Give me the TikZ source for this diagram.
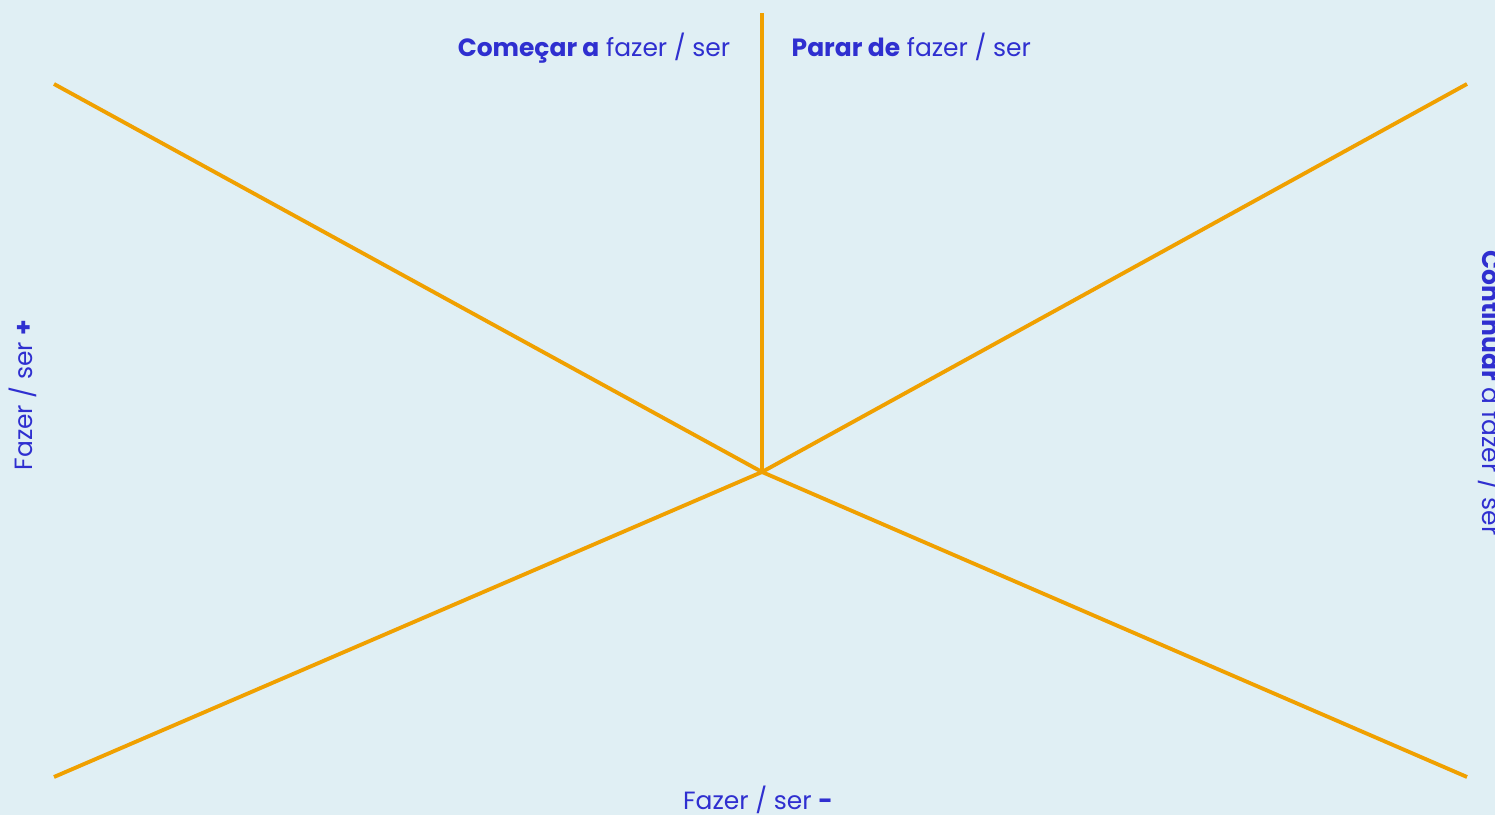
\documentclass[tikz,border=0pt]{standalone}
\usepackage{fontspec}
\setmainfont{Poppins}
\definecolor{bgblue}{HTML}{E0EFF4}
\definecolor{axisorange}{HTML}{F0A000}
\definecolor{labelblue}{HTML}{2F2FD0}
\tikzset{
  axis/.style={draw=axisorange, line width=1.1pt},
  lab/.style={text=labelblue, font=\fontsize{7.1}{8}\selectfont, inner sep=0pt}
}
\begin{document}
\begin{tikzpicture}
  \fill[bgblue] (0,0) rectangle (14.95,8.15);
  \useasboundingbox (0,0) rectangle (14.95,8.15);
  \begin{scope}
  \clip (0,0) rectangle (14.95,8.15);
  \coordinate (mid) at (7.62,3.43);
  \coordinate (top) at (7.62,8.02);
  \coordinate (ul) at (0.54,7.31);
  \coordinate (ur) at (14.67,7.31);
  \coordinate (ll) at (0.54,0.38);
  \coordinate (lr) at (14.67,0.38);
  \draw[axis] (ul) -- (mid) -- (lr);
  \draw[axis] (ll) -- (mid) -- (ur);
  \draw[axis] (mid) -- (top);
  \node[lab, anchor=base east] (start) at (7.31,7.58) {\textbf{Começar a} fazer / ser};
  \node[lab, anchor=base west] (stop) at (7.91,7.58) {\textbf{Parar de} fazer / ser};
  \node[lab, anchor=base] (minus) at (7.58,0.05) {Fazer / ser \textbf{-}};
  \node[lab, anchor=base, rotate=90] (plus) at (0.32,4.20) {Fazer / ser \textbf{+}};
  \node[lab, anchor=base, rotate=-90] (keep) at (14.82,4.22) {\textbf{Continuar} a fazer / ser};
  \end{scope}
\end{tikzpicture}
\end{document}
